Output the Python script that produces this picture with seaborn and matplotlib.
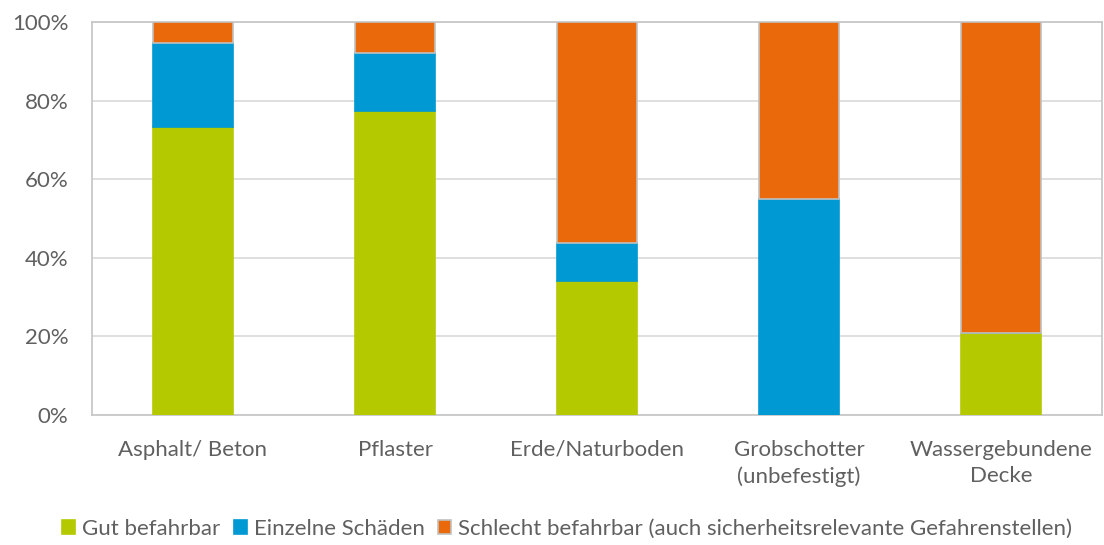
import numpy as np
import pandas as pd
import matplotlib
matplotlib.use("Agg")
import matplotlib.pyplot as plt
import seaborn as sns
from matplotlib.patches import Patch

# data (shares in %)
categories = ["Asphalt/ Beton", "Pflaster", "Erde/Naturboden", "Grobschotter\n(unbefestigt)", "Wassergebundene\nDecke"]
gut = [73.3, 77.4, 34.1, 0.0, 20.9]
einzeln = [21.4, 14.7, 9.7, 55.0, 0.0]
schlecht = [5.3, 7.9, 56.2, 45.0, 79.1]

series_names = ["Gut befahrbar", "Einzelne Schäden",
                "Schlecht befahrbar (auch sicherheitsrelevante Gefahrenstellen)"]
colors = ["#b5c900", "#0099d3", "#ea690b"]

sns.set_style("white")
plt.rcParams["font.family"] = ["Lato", "DejaVu Sans"]
text_col = "#606060"

fig = plt.figure(figsize=(11.04, 5.45), dpi=100)
ax = fig.add_axes([92 / 1104, 130 / 545, 1010 / 1104, 393 / 545])

bottom = np.zeros(len(categories))
for name, vals, col in zip(series_names, [gut, einzeln, schlecht], colors):
    df = pd.DataFrame({"cat": categories, "val": vals})
    edge = "#c0c0c0" if col == colors[2] else col
    sns.barplot(data=df, x="cat", y="val", color=col, bottom=bottom, width=0.4,
                ax=ax, edgecolor=edge, linewidth=1.2, saturation=1, zorder=3)
    bottom = bottom + np.array(vals)

ax.set_xlim(-0.5, len(categories) - 0.5)
ax.set_ylim(0, 100)
ax.set_yticks(range(0, 101, 20))
ax.set_yticklabels([f"{v}%" for v in range(0, 101, 20)])
ax.yaxis.grid(True, color="#d9d9d9", linewidth=1.2, zorder=0)
ax.set_axisbelow(True)
ax.set_xlabel("")
ax.set_ylabel("")
for s in ax.spines.values():
    s.set_visible(True)
    s.set_color("#c8c8c8")
    s.set_linewidth(1.3)
ax.tick_params(axis="both", length=0, labelsize=16, colors=text_col)
ax.tick_params(axis="x", pad=18)
ax.tick_params(axis="y", pad=17)
for lbl in ax.get_xticklabels():
    lbl.set_linespacing(1.4)
for lbl in ax.get_yticklabels():
    lbl.set_horizontalalignment("right")

handles = [Patch(facecolor=c, edgecolor=("#c0c0c0" if i == 2 else c), linewidth=1.2)
           for i, c in enumerate(colors)]
leg = fig.legend(handles, series_names, loc="lower center", bbox_to_anchor=(0.5136, -0.026),
                 ncol=3, frameon=False, fontsize=16, handlelength=0.6, handleheight=0.6,
                 handletextpad=0.3, columnspacing=0.6)
for t in leg.get_texts():
    t.set_color(text_col)

fig.savefig("out.png", dpi=100)
